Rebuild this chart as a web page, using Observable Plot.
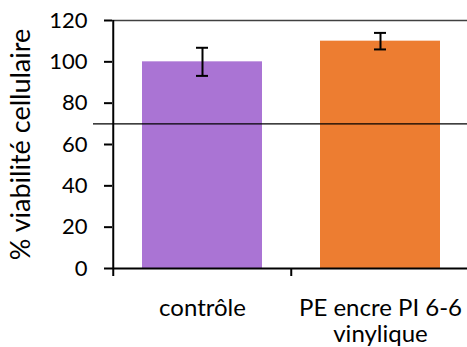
<!DOCTYPE html>
<html>
<head>
<meta charset="utf-8">
<script src="https://cdn.jsdelivr.net/npm/d3@7"></script>
<script src="https://cdn.jsdelivr.net/npm/@observablehq/plot@0.6"></script>
<style>
  html, body { margin: 0; padding: 0; background: white; overflow: hidden; }
</style>
</head>
<body>
<div id="chart"></div>
<script>
const categories = ["contrôle", "PE encre PI 6-6 vinylique"];
const tickLabels = ["contrôle", "PE encre PI 6-6\nvinylique"];
const values = [100, 110];
const errors = [6.8, 4];
const colors = ["#AA74D4", "#ED7D31"];
const yTicks = [0, 20, 40, 60, 80, 100, 120];
const threshold = [70];
const yLabel = "% viabilité cellulaire";

const data = categories.map((c, i) => ({cat: c, value: values[i], err: errors[i]}));
const labelOf = new Map(categories.map((c, i) => [c, tickLabels[i]]));

const chart = Plot.plot({
  width: 467,
  height: 347,
  marginLeft: 112,
  marginTop: 20,
  marginBottom: 79,
  marginRight: 0,
  style: {fontFamily: "Lato", fontSize: "22px", color: "black", background: "white"},
  x: {domain: categories, range: [112, 469], padding: 0},
  y: {domain: [0, 120]},
  color: {domain: categories, range: colors},
  marks: [
    Plot.barY(data, {x: "cat", y: "value", fill: "cat", insetLeft: 29, insetRight: 29}),
    Plot.ruleY([120], {stroke: "#404040", strokeWidth: 1.6}),
    Plot.ruleY(threshold, {stroke: "black", strokeWidth: 1.3, insetLeft: -19}),
    Plot.ruleX(data, {x: "cat", y1: d => d.value - d.err, y2: d => d.value + d.err, stroke: "black", strokeWidth: 2}),
    Plot.tickY(data, {x: "cat", y: d => d.value + d.err, stroke: "black", strokeWidth: 2, insetLeft: 83, insetRight: 83}),
    Plot.tickY(data, {x: "cat", y: d => d.value - d.err, stroke: "black", strokeWidth: 2, insetLeft: 83, insetRight: 83}),
    Plot.axisY({ticks: yTicks, tickSize: 8, tickPadding: 17, strokeWidth: 2, fontSize: 22, label: null}),
    Plot.axisY({ticks: [], tickSize: 0, fontSize: 27, label: yLabel, labelAnchor: "center", labelArrow: false, labelOffset: 102}),
    Plot.ruleX([categories[0]], {dx: -89.25, stroke: "black", strokeWidth: 2}),
    Plot.ruleY([0], {stroke: "black", strokeWidth: 2}),
    Plot.axisX({tickSize: 8, tickFormat: () => "", dx: -89.25, strokeWidth: 2, label: null}),
    Plot.axisX({tickSize: 0, tickPadding: 28, fontSize: 24, tickFormat: d => labelOf.get(d), lineHeight: 1.12, label: null})
  ]
});
document.getElementById("chart").appendChild(chart);
</script>
</body>
</html>
